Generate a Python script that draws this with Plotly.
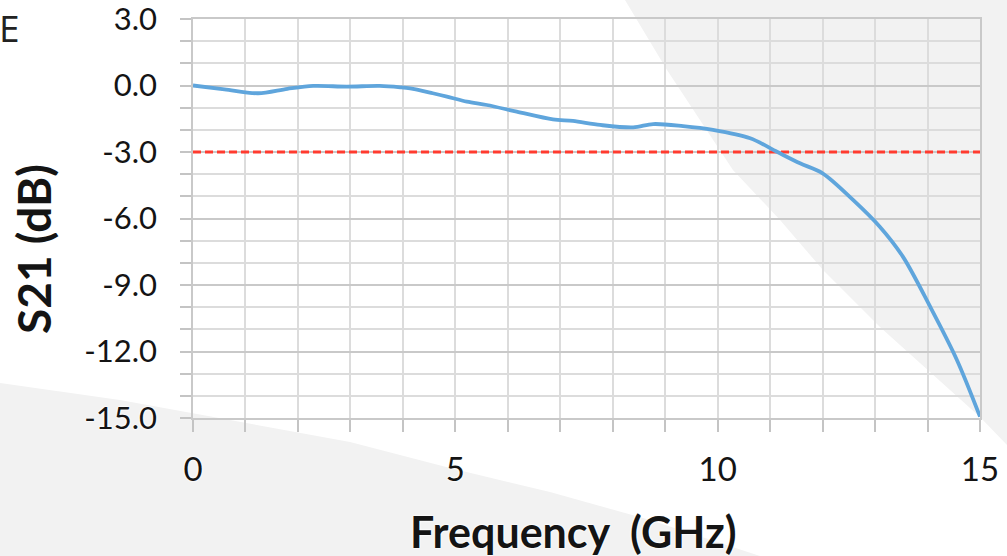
import plotly.graph_objects as go

# ---- data ----
freq_ghz = [0, 0.6, 1.24, 1.8, 2.29, 2.93, 3.56, 3.95, 4.14, 4.57, 4.84, 5.22, 5.6,
            6.17, 6.86, 7.24, 7.76, 8.39, 8.77, 9.34, 9.91, 10.62, 11.13, 11.57,
            12.0, 12.58, 13.09, 13.53, 14.05, 14.56, 15.0]
s21_db = [0.0, -0.17, -0.35, -0.15, -0.02, -0.05, -0.02, -0.08, -0.13, -0.35, -0.5,
          -0.73, -0.88, -1.18, -1.53, -1.6, -1.78, -1.89, -1.74, -1.83, -2.0, -2.38,
          -2.99, -3.51, -3.96, -5.16, -6.37, -7.72, -9.98, -12.38, -14.94]
ref_x = [0, 15]
ref_y = [-3.0, -3.0]

y_tickvals = [3, 0, -3, -6, -9, -12, -15]
y_ticktext = ["3.0", "0.0", "-3.0", "-6.0", "-9.0", "-12.0", "-15.0"]
x_tickvals = [0, 5, 10, 15]
x_ticktext = ["0", "5", "10", "15"]

x_title = "Frequency  (GHz)"
y_title = "S21 (dB)"

# ---- layout geometry (pixels) ----
W, H = 1007, 556
L, R, T, B = 193, 980, 19, 418


def px2paper(px, py):
    return (px - L) / (R - L), (B - py) / (B - T)


def path_from(points):
    pts = [px2paper(x, y) for x, y in points]
    return "M " + " L ".join(f"{x:.4f},{y:.4f}" for x, y in pts) + " Z"


top_right = [(625, 0), (667, 70), (733, 170), (780, 220), (823, 270), (880, 327),
             (980, 417), (1007, 445), (1007, 0)]
bottom_left = [(0, 383), (120, 400), (230, 420), (350, 442), (450, 468), (550, 492),
               (650, 520), (760, 556), (0, 556)]

halo = "0 0 2px #fff, 0 0 2px #fff, 0 0 3px #fff"
txt_col = "#141414"
grid_major = "#c9c9c9"
grid_minor = "#dcdcdc"

fig = go.Figure()
fig.add_trace(go.Scatter(x=ref_x, y=ref_y, mode="lines",
                         line=dict(color="#ff3b2f", width=3, dash="8px,4px"),
                         hoverinfo="skip", showlegend=False))
fig.add_trace(go.Scatter(x=freq_ghz, y=s21_db, mode="lines",
                         line=dict(color="#5fa5dc", width=3.8, shape="spline", smoothing=0.9),
                         showlegend=False))

shapes = []
for pts in (top_right, bottom_left):
    shapes.append(dict(type="path", xref="paper", yref="paper", path=path_from(pts),
                       fillcolor="#f2f2f2", line=dict(width=0), layer="below"))

xt_x, xt_y = px2paper(573, 531)
yt_x, yt_y = px2paper(33, 249)
e_x, e_y = px2paper(-3, 27)

fig.update_layout(
    width=W, height=H, autosize=False,
    margin=dict(l=L, r=W - R, t=T, b=H - B, pad=0),
    paper_bgcolor="white",
    plot_bgcolor="rgba(0,0,0,0)",
    shapes=shapes,
    font=dict(family="Lato", color=txt_col),
    annotations=[
        dict(text="E", xref="paper", yref="paper", x=e_x, y=e_y,
             xanchor="left", yanchor="middle", showarrow=False,
             font=dict(family="Open Sans", size=37, weight="normal", color="#222")),
        dict(text=x_title, xref="paper", yref="paper", x=xt_x, y=xt_y,
             xanchor="center", yanchor="middle", showarrow=False,
             font=dict(family="Lato", size=43, weight="bold", color=txt_col, shadow=halo)),
        dict(text=y_title, xref="paper", yref="paper", x=yt_x, y=yt_y, textangle=-90,
             xanchor="center", yanchor="middle", showarrow=False,
             font=dict(family="Lato", size=46, weight="bold", color=txt_col, shadow=halo)),
    ],
)

fig.update_xaxes(
    range=[0, 15], tickmode="array", tickvals=x_tickvals, ticktext=x_ticktext,
    ticks="outside", ticklen=12, tickcolor="#c4c4c4", tickwidth=1.5,
    showgrid=True, gridcolor=grid_minor, gridwidth=1.5,
    showline=True, mirror=True, linecolor=grid_major, linewidth=1.5,
    zeroline=False, ticklabelstandoff=10, automargin=False, ticklabeloverflow="allow",
    tickfont=dict(family="Lato", size=33, color=txt_col, shadow=halo),
    minor=dict(tickmode="linear", tick0=0, dtick=1, ticks="outside", ticklen=12,
               tickcolor="#c4c4c4", showgrid=True, gridcolor=grid_minor, gridwidth=1.5),
)
fig.update_yaxes(
    range=[-15, 3], tickmode="array", tickvals=y_tickvals, ticktext=y_ticktext,
    ticks="outside", ticklen=11, tickcolor="#c4c4c4", tickwidth=1.5,
    showgrid=True, gridcolor=grid_major, gridwidth=1.5,
    showline=True, mirror=True, linecolor=grid_major, linewidth=1.5,
    zeroline=False, ticklabelstandoff=17, automargin=False, ticklabeloverflow="allow",
    tickfont=dict(family="Lato", size=31, color=txt_col, shadow=halo),
    minor=dict(tickmode="linear", tick0=0, dtick=1, ticks="outside", ticklen=11,
               tickcolor="#c4c4c4", showgrid=True, gridcolor=grid_minor, gridwidth=1.5),
)

fig.write_html("out.html", config={"displayModeBar": False},
               post_script="document.body.style.margin='0';document.body.style.overflow='hidden';")
